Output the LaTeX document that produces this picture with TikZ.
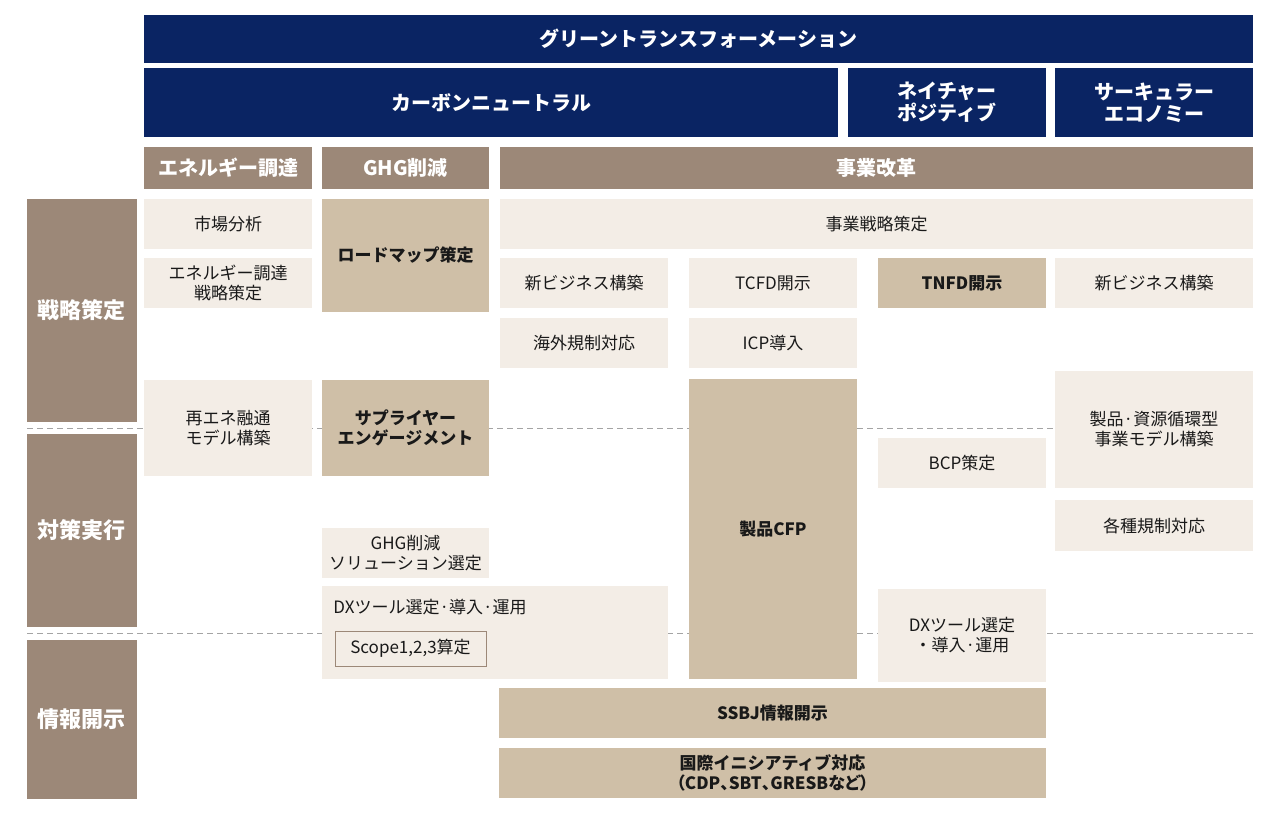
\documentclass[tikz,border=0pt]{standalone}
\usepackage{fontspec}
\setmainfont{Noto Sans CJK JP}
\newfontfamily\proptext[RawFeature=+palt]{Noto Sans CJK JP}
\definecolor{gxnavy}{HTML}{0A2463}
\definecolor{hdbrown}{HTML}{9C8878}
\definecolor{boxtan}{HTML}{CFBFA7}
\definecolor{boxlite}{HTML}{F3EDE6}
\definecolor{sepgray}{HTML}{A4A4A4}
\tikzset{
  sz/.style 2 args={minimum width=#1*0.5pt, minimum height=#2*0.5pt},
  navy/.style={fill=gxnavy, text=white, inner sep=0pt, align=center,
    font=\bfseries\fontsize{10}{11}\selectfont},
  head/.style={fill=hdbrown, text=white, inner sep=0pt,
    font=\bfseries\fontsize{10}{12}\selectfont},
  side/.style={fill=hdbrown, text=white, inner sep=0pt,
    font=\bfseries\fontsize{11}{12}\selectfont},
  lite/.style={fill=boxlite, text=black!90, inner sep=0pt, align=center,
    font=\fontsize{8.5}{10}\selectfont},
  tan/.style={fill=boxtan, text=black!90, inner sep=0pt, align=center,
    font=\bfseries\fontsize{8.5}{10}\selectfont},
  scopebox/.style={lite, draw=hdbrown, line width=0.5pt},
  sepline/.style={sepgray, line width=0.5pt, dash pattern=on 3pt off 2pt},
}
\begin{document}
\begin{tikzpicture}[x=0.5pt,y=-0.5pt]
%\draw[step=50,gray,very thin] (0,0) grid (1280,815); %grid lines
\useasboundingbox (0,0) rectangle (1280,815);

\draw[sepline] (27,428) -- (1253,428);
\draw[sepline] (27,633) -- (1253,633);

\node[navy, sz={1109}{48}] (gx) at (698.5,39) {グリーントランスフォーメーション};
\node[navy, sz={694}{69}] (carbon) at (491,102.5) {カーボンニュートラル};
\node[navy, sz={198}{69}] (nature) at (947,102.5) {ネイチャー\\ポジティブ};
\node[navy, sz={198}{69}] (circular) at (1154,102.5) {サーキュラー\\エコノミー};

\node[head, sz={168}{42}] (energy) at (228,168) {エネルギー調達};
\node[head, sz={167}{42}] (ghg) at (405.5,168) {GHG削減};
\node[head, sz={753}{42}] (bizreform) at (876.5,168) {事業改革};

\node[side, sz={110}{223}] (strategy) at (82,310.5) {戦略策定};
\node[side, sz={110}{193}] (action) at (82,530.5) {対策実行};
\node[side, sz={110}{159}] (disclose) at (82,719.5) {情報開示};

\node[lite, sz={168}{50}] (market) at (228,224) {市場分析};
\node[lite, sz={168}{50}] (estrat) at (228,283) {エネルギー調達\\戦略策定};
\node[lite, sz={168}{96}] (renew) at (228,428) {再エネ融通\\モデル構築};

\node[tan, sz={167}{113}] (roadmap) at (405.5,255.5) {ロードマップ策定};
\node[tan, sz={167}{96}] (supplier) at (405.5,428) {サプライヤー\\エンゲージメント};
\node[lite, sz={167}{50}] (ghgsol) at (405.5,553) {GHG削減\\ソリューション選定};
\node[lite, sz={346}{93}] (dxtool) at (495,632.5) {};
\node[lite, fill=none, anchor=west] (dxtext) at (333,607) {DXツール選定·導入·運用};
\node[scopebox, sz={151}{35}] (scope) at (410.5,648.5) {Scope1,2,3算定};

\node[lite, sz={753}{50}] (bizstrat) at (876.5,224) {事業戦略策定};
\node[lite, sz={168}{50}] (newbiz) at (584,283) {新ビジネス構築};
\node[lite, sz={168}{50}] (overseas) at (584,343) {海外規制対応};
\node[lite, sz={168}{50}] (tcfd) at (773,283) {TCFD開示};
\node[lite, sz={168}{50}] (icp) at (773,343) {ICP導入};
\node[tan, sz={168}{300}] (cfp) at (773,529) {製品CFP};
\node[tan, sz={168}{50}] (tnfd) at (962,283) {TNFD開示};
\node[lite, sz={168}{50}] (bcp) at (962,463) {BCP策定};
\node[lite, sz={168}{93}] (dxtool2) at (962,635.5) {DXツール選定\\・導入·運用};
\node[lite, sz={198}{50}] (newbiz2) at (1154,283) {新ビジネス構築};
\node[lite, sz={198}{117}] (recycle) at (1154,429.5) {製品·資源循環型\\事業モデル構築};
\node[lite, sz={198}{51}] (regs) at (1154,525.5) {各種規制対応};

\node[tan, sz={547}{50}] (ssbj) at (772.5,713) {SSBJ情報開示};
\node[tan, sz={547}{50}] (intl) at (772.5,773) {国際イニシアティブ対応\\{\proptext\bfseries （CDP、SBT、GRESBなど）}};
\end{tikzpicture}
\end{document}
